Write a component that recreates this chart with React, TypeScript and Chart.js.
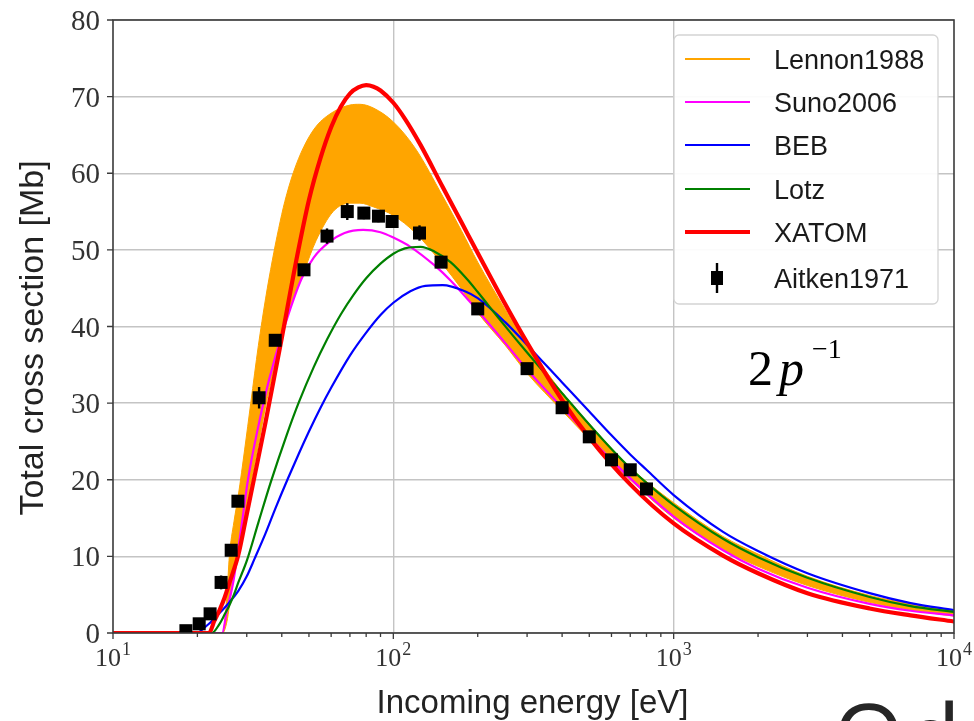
import React, { useEffect, useRef } from 'react';
import { Chart, registerables } from 'chart.js';

Chart.register(...registerables);

const W = 974;
const H = 721;

// Aitken 1971 measurements (energy in eV, cross section in Mb)
const aitkenEnergy = [18.2, 20.3, 22.2, 24.3, 26.4, 27.9, 33.2, 37.9, 48, 58, 68.5, 78.5, 88.5, 99, 124, 148, 200, 300, 400, 500, 600, 700, 800];
const aitkenValue = [0.3, 1.2, 2.5, 6.6, 10.8, 17.2, 30.7, 38.2, 47.4, 51.8, 55.0, 54.8, 54.4, 53.7, 52.2, 48.4, 42.3, 34.5, 29.4, 25.6, 22.6, 21.3, 18.8];
const aitkenError = [0.2, 0.3, 0.4, 0.9, 0.6, 0.5, 1.4, 0.7, 0.7, 1.0, 1.1, 0.8, 0.8, 0.7, 1.0, 0.7, 0.6, 0.5, 0.4, 0.4, 0.3, 0.3, 0.3];

// Lennon 1988 band (upper and lower bounds on a shared energy grid)
const lennonEnergy = [10, 24.6, 25.5, 26, 27, 28, 29.5, 31, 33, 35, 37, 39, 41, 44, 48, 53, 61, 70, 76, 85, 100, 120, 150, 175, 200, 250, 300, 400, 500, 700, 1000, 1500, 2000, 3000, 5000, 7000, 10000];
const lennonUpper = [0, 0, 5, 10, 14.5, 18, 24, 30, 37.5, 43.6, 48.6, 52.8, 56.3, 60.1, 63.5, 66.1, 68.0, 68.9, 69.0, 68.5, 66.7, 63.2, 57.0, 52.5, 48.4, 42.3, 37.7, 31.4, 27.3, 21.6, 17.0, 12.6, 10.3, 7.4, 4.9, 3.8, 2.9];
const lennonLower = [0, 0, 1.5, 3.5, 8, 11.5, 15.5, 19.5, 24.5, 29.5, 33.5, 37, 40.5, 43.8, 47.2, 51.2, 55, 56.1, 56.1, 55.6, 54.5, 52.2, 48.1, 44.9, 41.8, 37.6, 33.9, 29.0, 25.3, 20.0, 15.0, 10.9, 8.7, 6.2, 4.0, 3.0, 2.2];

// Suno 2006
const sunoEnergy = [10, 24.5, 25.5, 26.8, 28.5, 30.3, 33, 36, 40.5, 47, 52, 59, 67, 78, 90, 100, 115, 140, 160, 205, 250, 300, 415, 610, 1000, 1500, 2000, 3000, 5000, 7000, 10000];
const sunoValue = [0, 0, 3, 6.5, 13, 20, 27, 33, 39.5, 46.2, 49, 51, 52.2, 52.6, 52.3, 51.6, 50.4, 48.0, 46.0, 41.6, 37.9, 34.4, 28.8, 22.3, 15.2, 10.8, 8.4, 5.9, 3.8, 2.9, 2.3];

// BEB model
const bebEnergy = [10, 20, 21, 22, 23, 24, 25, 26, 28, 30, 32, 35, 38, 42, 46, 50, 55, 60, 70, 80, 90, 100, 115, 130, 150, 180, 200, 250, 300, 400, 500, 600, 700, 800, 1000, 1500, 2000, 3000, 5000, 7000, 10000];
const bebValue = [0, 0, 0.6, 1.2, 1.9, 2.6, 3.3, 4.0, 5.5, 7.4, 9.7, 13, 16.3, 20.1, 23.4, 26.3, 29.4, 32.0, 36.2, 39.2, 41.5, 43.1, 44.6, 45.3, 45.4, 44.6, 43.7, 40.6, 37.6, 32.7, 28.9, 25.8, 23.3, 21.3, 18.0, 13.2, 10.7, 7.8, 5.2, 3.9, 3.0];

// Lotz formula
const lotzEnergy = [10, 22.5, 24, 25, 26, 27, 28, 29, 30, 33, 36.4, 41.7, 46, 52, 58, 65, 72, 80, 90, 100, 110, 125, 140, 160, 183, 200, 241, 300, 400, 500, 600, 700, 800, 1000, 1500, 2000, 3000, 5000, 7000, 10000];
const lotzValue = [0, 0, 1.2, 2.4, 3.6, 5.0, 6.6, 8.0, 9.4, 14.4, 19.5, 25.9, 30.1, 34.7, 38.3, 41.6, 44.1, 46.3, 48.2, 49.5, 50.2, 50.4, 49.8, 48.4, 46.2, 44.5, 40.8, 36.6, 31.3, 27.2, 24.0, 21.5, 19.6, 16.7, 12.3, 9.9, 7.2, 4.7, 3.5, 2.75];

// XATOM
const xatomEnergy = [10, 22, 23, 24, 25, 26, 28, 30, 32, 35, 40, 45, 50, 55, 60, 65, 70, 75, 80, 85, 90, 100, 110, 125, 150, 175, 200, 250, 300, 400, 500, 700, 1000, 1500, 2000, 3000, 5000, 7000, 10000];
const xatomValue = [0, 0, 1.6, 3.0, 4.6, 6.5, 10.2, 15.5, 20.5, 27.5, 38.5, 48.5, 56.5, 62, 66, 68.7, 70.4, 71.2, 71.5, 71.3, 70.8, 69.2, 67.1, 63.7, 58.2, 53.6, 49.6, 43.0, 37.9, 30.4, 25.5, 19.4, 14.3, 10.1, 7.8, 5.2, 3.2, 2.3, 1.5];

// Axes
const yTicks = [0, 10, 20, 30, 40, 50, 60, 70, 80];
const xMajorTicks = [10, 100, 1000, 10000];
const xTickBase = '10';
const xTickExponents = ['1', '2', '3', '4'];
const xTitle = 'Incoming energy [eV]';
const yTitle = 'Total cross section [Mb]';

const ORANGE = '#ffa500';
const MAGENTA = '#ff00ff';
const BLUE = '#0000ff';
const GREEN = '#008000';
const RED = '#ff0000';

const legendItems = [
  { label: 'Lennon1988', color: ORANGE, width: 2.2 },
  { label: 'Suno2006', color: MAGENTA, width: 2.2 },
  { label: 'BEB', color: BLUE, width: 2.2 },
  { label: 'Lotz', color: GREEN, width: 2.2 },
  { label: 'XATOM', color: RED, width: 4.2 },
  { label: 'Aitken1971', color: '#000', width: 0 },
];

const pts = (xs: number[], ys: number[]) => xs.map((x, i) => ({ x, y: ys[i] }));

const SERIF = '"Liberation Serif", "DejaVu Serif", serif';
const SANS = '"Liberation Sans", "DejaVu Sans", sans-serif';

const isDecade = (v: number) => Math.abs(Math.log10(v) - Math.round(Math.log10(v))) < 1e-6;

const decorPlugin = {
  id: 'decor',
  afterDatasetsDraw(chart: any) {
    const { ctx, chartArea: a, scales } = chart;
    const xs = scales.x;
    const ys = scales.y;
    ctx.save();

    // vertical error bars on the measurements
    ctx.strokeStyle = '#000';
    ctx.lineWidth = 2.4;
    aitkenEnergy.forEach((e, i) => {
      const px = xs.getPixelForValue(e);
      ctx.beginPath();
      ctx.moveTo(px, ys.getPixelForValue(aitkenValue[i] - aitkenError[i]));
      ctx.lineTo(px, ys.getPixelForValue(aitkenValue[i] + aitkenError[i]));
      ctx.stroke();
    });

    // axes frame
    ctx.strokeStyle = '#3a3a3a';
    ctx.lineWidth = 1.6;
    ctx.strokeRect(a.left, a.top, a.right - a.left, a.bottom - a.top);

    // x ticks: majors and log minors, pointing outward
    ctx.lineWidth = 1.3;
    ctx.beginPath();
    for (let d = 1; d <= 4; d++) {
      for (let m = 1; m <= 9; m++) {
        const v = m * Math.pow(10, d);
        if (v > 10000) break;
        const px = xs.getPixelForValue(v);
        const len = m === 1 ? 6 : 4;
        ctx.moveTo(px, a.bottom);
        ctx.lineTo(px, a.bottom + len);
      }
    }
    // y ticks
    yTicks.forEach((t) => {
      const py = ys.getPixelForValue(t);
      ctx.moveTo(a.left - 6, py);
      ctx.lineTo(a.left, py);
    });
    ctx.stroke();

    // y tick labels
    ctx.fillStyle = '#333';
    ctx.font = `29px ${SERIF}`;
    ctx.textAlign = 'right';
    ctx.textBaseline = 'alphabetic';
    yTicks.forEach((t) => {
      const py = ys.getPixelForValue(t);
      ctx.fillText(String(t), a.left - 13, py + 10);
    });

    // x tick labels as powers of ten
    ctx.textAlign = 'left';
    xMajorTicks.forEach((v, i) => {
      const px = xs.getPixelForValue(v);
      ctx.font = `26px ${SERIF}`;
      const wBase = ctx.measureText(xTickBase).width;
      ctx.font = `18px ${SERIF}`;
      const wExp = ctx.measureText(xTickExponents[i]).width;
      const start = px - (wBase + wExp + 1) / 2;
      ctx.font = `26px ${SERIF}`;
      ctx.fillText(xTickBase, start, 666);
      ctx.font = `18px ${SERIF}`;
      ctx.fillText(xTickExponents[i], start + wBase + 1, 655);
    });

    // axis titles
    ctx.fillStyle = '#222';
    ctx.font = `33px ${SANS}`;
    ctx.textAlign = 'center';
    ctx.fillText(xTitle, (a.left + a.right) / 2 - 1, 713);
    ctx.save();
    ctx.translate(43, 338);
    ctx.rotate(-Math.PI / 2);
    ctx.font = `34px ${SANS}`;
    ctx.fillText(yTitle, 0, 0);
    ctx.restore();

    // legend
    const lx = 674, ly = 35, lw = 264, lh = 269, r = 5;
    ctx.beginPath();
    ctx.moveTo(lx + r, ly);
    ctx.arcTo(lx + lw, ly, lx + lw, ly + lh, r);
    ctx.arcTo(lx + lw, ly + lh, lx, ly + lh, r);
    ctx.arcTo(lx, ly + lh, lx, ly, r);
    ctx.arcTo(lx, ly, lx + lw, ly, r);
    ctx.closePath();
    ctx.fillStyle = 'rgba(255,255,255,0.92)';
    ctx.fill();
    ctx.strokeStyle = '#d4d4d4';
    ctx.lineWidth = 1.3;
    ctx.stroke();

    const rowY = [59, 102, 145, 189, 232, 278];
    ctx.font = `27px ${SANS}`;
    ctx.textAlign = 'left';
    legendItems.forEach((it, i) => {
      const y = rowY[i];
      if (it.width > 0) {
        ctx.strokeStyle = it.color;
        ctx.lineWidth = it.width;
        ctx.beginPath();
        ctx.moveTo(685, y);
        ctx.lineTo(750, y);
        ctx.stroke();
      } else {
        ctx.strokeStyle = '#000';
        ctx.lineWidth = 2.4;
        ctx.beginPath();
        ctx.moveTo(717, y - 15);
        ctx.lineTo(717, y + 15);
        ctx.stroke();
        ctx.fillStyle = '#000';
        ctx.fillRect(711, y - 7, 12, 14);
      }
      ctx.fillStyle = '#1a1a1a';
      ctx.fillText(it.label, 774, y + 10);
    });

    ctx.restore();
  },
  afterDraw(chart: any) {
    const { ctx } = chart;
    ctx.save();
    // slide annotation: 2 p^-1
    ctx.fillStyle = '#000';
    ctx.textAlign = 'left';
    ctx.textBaseline = 'alphabetic';
    ctx.font = `50px ${SERIF}`;
    ctx.fillText('2', 748, 385);
    ctx.font = `italic 50px ${SERIF}`;
    ctx.fillText('p', 779, 385);
    ctx.font = `28px ${SERIF}`;
    ctx.fillText('\u22121', 812, 358);
    // heading text running off the bottom edge
    ctx.fillStyle = '#262626';
    ctx.font = `92px "Open Sans", ${SANS}`;
    ctx.fillText('Od', 833, 770);
    ctx.restore();
  },
};

const curve = (data: { x: number; y: number }[], color: string, width: number, order: number, extra: any = {}) => ({
  data,
  borderColor: color,
  backgroundColor: color,
  borderWidth: width,
  pointRadius: 0,
  cubicInterpolationMode: 'monotone',
  borderJoinStyle: 'round',
  borderCapStyle: 'round',
  fill: false,
  order,
  ...extra,
});

export default function App() {
  const canvasRef = useRef<HTMLCanvasElement | null>(null);

  useEffect(() => {
    const canvas = canvasRef.current;
    if (!canvas) return;
    const chart = new Chart(canvas, {
      type: 'line',
      data: {
        datasets: [
          {
            label: 'Aitken1971',
            data: pts(aitkenEnergy, aitkenValue),
            showLine: false,
            pointStyle: 'rect',
            pointRadius: 9.2,
            pointBorderWidth: 0,
            pointBackgroundColor: '#000',
            borderColor: '#000',
            order: 0,
          } as any,
          curve(pts(xatomEnergy, xatomValue), RED, 4.2, 1),
          curve(pts(lotzEnergy, lotzValue), GREEN, 2.2, 2),
          curve(pts(bebEnergy, bebValue), BLUE, 2.2, 3),
          curve(pts(sunoEnergy, sunoValue), MAGENTA, 2.2, 4),
          curve(pts(lennonEnergy, lennonUpper), ORANGE, 1, 5, { fill: '+1', backgroundColor: ORANGE }),
          curve(pts(lennonEnergy, lennonLower), ORANGE, 1, 6),
        ],
      },
      options: {
        responsive: false,
        animation: false,
        events: [],
        layout: { padding: { top: 20, right: 20, left: 0, bottom: 0 } },
        plugins: {
          legend: { display: false },
          tooltip: { enabled: false },
        },
        scales: {
          x: {
            type: 'logarithmic',
            min: 10,
            max: 10000,
            ticks: { display: false },
            border: { display: false },
            grid: {
              drawTicks: false,
              lineWidth: 1.4,
              color: (c: any) => {
                const v = c.tick ? c.tick.value : 0;
                return v > 10 && v < 10000 && isDecade(v) ? '#c4c4c4' : 'rgba(0,0,0,0)';
              },
            },
            afterFit: (s: any) => {
              s.height = 88;
            },
          },
          y: {
            type: 'linear',
            min: 0,
            max: 80,
            ticks: { display: false, stepSize: 10 },
            border: { display: false },
            grid: { drawTicks: false, lineWidth: 1.4, color: '#c4c4c4' },
            afterFit: (s: any) => {
              s.width = 113;
            },
          },
        },
      } as any,
      plugins: [decorPlugin],
    });
    return () => chart.destroy();
  }, []);

  return (
    <div style={{ position: 'fixed', left: 0, top: 0, width: W, height: H, background: '#fff' }}>
      <canvas ref={canvasRef} width={W} height={H} style={{ width: W, height: H, display: 'block' }} />
    </div>
  );
}
